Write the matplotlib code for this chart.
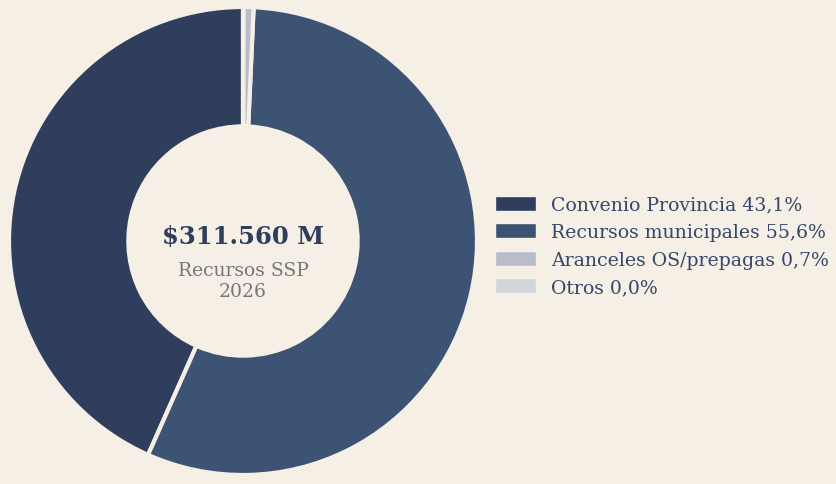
import matplotlib.pyplot as plt
from matplotlib.patches import Patch

labels = ["Convenio Provincia", "Recursos municipales", "Aranceles OS/prepagas", "Otros"]
shares = [43.1, 55.6, 0.7, 0.02]
shown = ["43,1%", "55,6%", "0,7%", "0,0%"]
colors = ["#2e3e5c", "#3d5373", "#b7bec9", "#d1d4d8"]
total = "$311.560 M"
subtitle = "Recursos SSP\n2026"

bg = "#f5efe6"
fig = plt.figure(figsize=(8.36, 4.85), dpi=100, facecolor=bg)
ax = fig.add_axes([9 / 836, 9 / 485, 468 / 836, 468 / 485])
ax.set_facecolor(bg)

ax.pie(shares, colors=colors, startangle=90, counterclock=True, radius=1,
       wedgeprops=dict(width=0.51, edgecolor=bg, linewidth=3))
ax.set_xlim(-1.0, 1.0)
ax.set_ylim(-1.0, 1.0)
ax.set_aspect("equal")
ax.axis("off")

ax.text(0, 0.022, total, ha="center", va="center", fontsize=17.5, fontweight="bold",
        family="DejaVu Serif", color="#2e3e5c")
ax.text(0, -0.17, subtitle, ha="center", va="center", fontsize=13.5,
        family="DejaVu Serif", color="#777777", linespacing=1.2)

handles = [Patch(facecolor=c, edgecolor=bg) for c in colors]
leg_labels = [f"{l} {s}" for l, s in zip(labels, shown)]
fig.legend(handles, leg_labels, loc="center left", bbox_to_anchor=(495 / 836, 238 / 485),
           frameon=False, prop={"family": "DejaVu Serif", "size": 13.6},
           labelcolor="#34476a", handlelength=2.15, handleheight=0.85,
           handletextpad=0.8, labelspacing=0.5, borderaxespad=0, borderpad=0)

fig.savefig("out.png", facecolor=bg)
